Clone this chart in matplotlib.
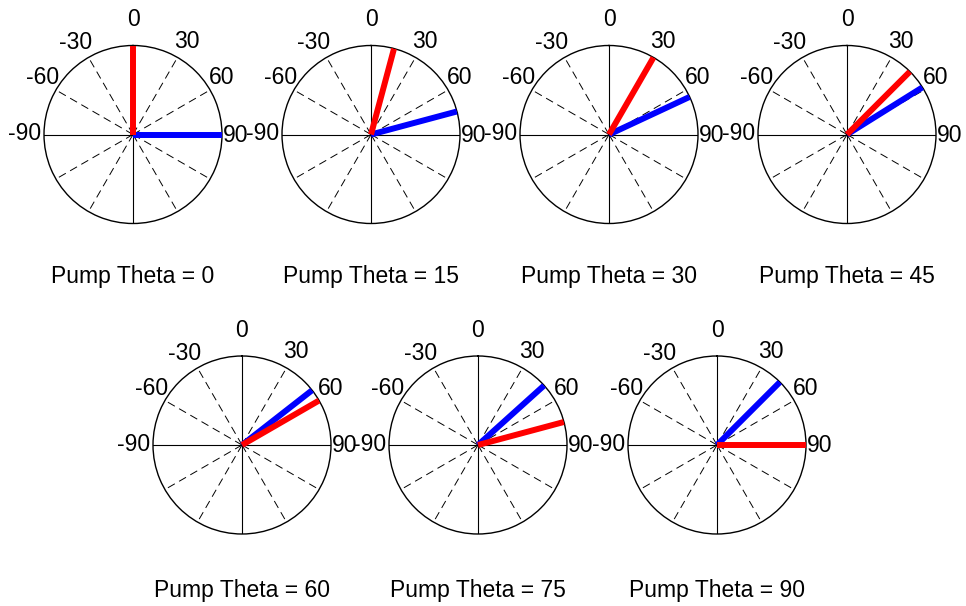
import numpy as np
import matplotlib
matplotlib.use("Agg")
import matplotlib.pyplot as plt

plt.rcParams['font.family'] = ['Liberation Sans', 'DejaVu Sans']

# ---- data (angles in degrees, measured clockwise from "0" at top) ----
pump_theta = [0, 15, 30, 45, 60, 75, 90]          # red lines
signal_theta = [90, 75, 65, 58, 52, 48, 45]       # blue lines
pump_mag = [1.0, 1.0, 1.0, 1.0, 1.0, 1.0, 1.0]
signal_mag = [1.0, 1.0, 1.0, 1.0, 1.0, 1.0, 1.0]
titles = ["Pump Theta = %d" % t for t in pump_theta]
tick_angles = [0, 30, 60, 90, -30, -60, -90]
tick_labels = ["0", "30", "60", "90", "-30", "-60", "-90"]

# ---- layout (pixels) ----
W, H = 966, 606
R = 89
centers = [(133, 134.5), (371, 134.5), (609, 134.5), (847, 134.5),
           (242, 445), (478, 445), (717, 445)]
title_y = [283.5, 283.5, 283.5, 283.5, 596.5, 596.5, 596.5]
# label offsets in units of radius (x right, y up)
label_off = {0: (0.0, 1.29), 30: (0.60, 1.05), 60: (1.0, 0.635), 90: (1.15, -0.01),
             -30: (-0.645, 1.03), -60: (-1.02, 0.64), -90: (-1.22, 0.01)}

fig = plt.figure(figsize=(W / 100, H / 100), dpi=100)
FS = 16.5

for i, (cx, cy) in enumerate(centers):
    ax = fig.add_axes([(cx - R) / W, 1 - (cy + R) / H, 2 * R / W, 2 * R / H],
                      projection='polar')
    ax.set_theta_zero_location('N')
    ax.set_theta_direction(-1)
    ax.set_rlim(0, 1)
    ax.set_xticks([])
    ax.set_yticks([])
    ax.grid(False)
    ax.spines['polar'].set_linewidth(1.0)
    ax.spines['polar'].set_color('black')
    # spokes
    for a in range(0, 360, 30):
        th = np.deg2rad(a)
        if a % 90 == 0:
            ax.plot([th, th], [0, 1], color='black', lw=0.8, zorder=1)
        else:
            ax.plot([th, th], [0, 1], color='black', lw=0.7,
                    dashes=(8.2, 5.1), zorder=1)
    # data lines
    tb = np.deg2rad(signal_theta[i])
    ax.plot([tb, tb], [0, signal_mag[i]], color='#0000ff', lw=4.3,
            solid_capstyle='butt', zorder=3)
    tr = np.deg2rad(pump_theta[i])
    ax.plot([tr, tr], [0, pump_mag[i]], color='#ff0000', lw=4.3,
            solid_capstyle='butt', zorder=4)
    # tick labels
    for ang, lab in zip(tick_angles, tick_labels):
        ox, oy = label_off[ang]
        th = np.arctan2(ox, oy)
        rr = np.hypot(ox, oy)
        ax.text(th, rr, lab, ha='center', va='center', fontsize=FS,
                clip_on=False, zorder=5)
    # title
    fig.text(cx / W, 1 - title_y[i] / H, titles[i], ha='center', va='baseline',
             fontsize=FS)

fig.savefig('out.png', dpi=100, facecolor='white')
